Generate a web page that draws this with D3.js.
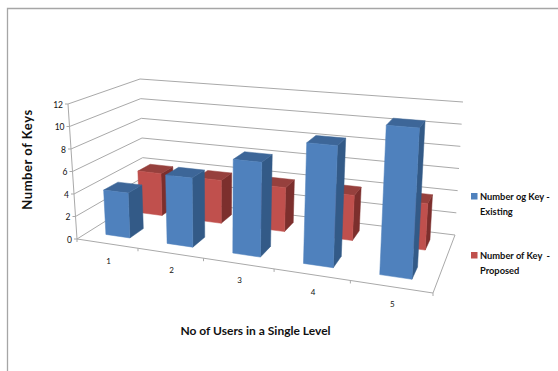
<!DOCTYPE html>
<html>
<head>
<meta charset="utf-8">
<script src="https://cdnjs.cloudflare.com/ajax/libs/d3/7.8.5/d3.min.js"></script>
<style>
html,body{margin:0;padding:0;background:#fff}
svg{display:block}
text{font-family:Lato,"Open Sans",sans-serif;fill:#111}
</style>
</head>
<body>
<svg id="chart" width="558" height="371"></svg>
<script>
// Chart data
const categories = ["1", "2", "3", "4", "5"];
const seriesNames = ["Number og Key - Existing", "Number of Key  - Proposed"];
const existingKeys = [4, 6, 8, 10, 12];
const proposedKeys = [4, 4, 4, 4, 4];
const valueTicks = [0, 2, 4, 6, 8, 10, 12];

// Screen corners of the 3D box, ordered front-left, front-right, back-right, back-left
const floorCorners = [[77, 239], [433, 293], [455, 235], [144, 197]];
const ceilingCorners = [[68, 104], [441, 136], [463, 102], [140, 79]];

// Perspective mapping of the unit square onto a quadrilateral
function squareToQuad(q) {
  const [[x0, y0], [x1, y1], [x2, y2], [x3, y3]] = q;
  const dx1 = x1 - x2, dx2 = x3 - x2, sx = x0 - x1 + x2 - x3;
  const dy1 = y1 - y2, dy2 = y3 - y2, sy = y0 - y1 + y2 - y3;
  const det = dx1 * dy2 - dx2 * dy1;
  const g = (sx * dy2 - dx2 * sy) / det;
  const h = (dx1 * sy - sx * dy1) / det;
  const a = x1 - x0 + g * x1, b = x3 - x0 + h * x3;
  const d = y1 - y0 + g * y1, e = y3 - y0 + h * y3;
  return (u, v) => {
    const w = g * u + h * v + 1;
    return [(a * u + b * v + x0) / w, (d * u + e * v + y0) / w];
  };
}
const floorMap = squareToQuad(floorCorners);
const ceilingMap = squareToQuad(ceilingCorners);

const xScale = d3.scaleBand().domain(categories).range([0, 1]).paddingInner(0.6).paddingOuter(0.3);
const xPoint = d3.scalePoint().domain(categories).range([0.1, 0.9]);
const depthScale = d3.scaleBand().domain(seriesNames).range([0, 1]).paddingInner(0.6).paddingOuter(0.3);
const yScale = d3.scaleLinear().domain([0, 12]).range([0, 1]);

function project(u, d, t) {
  const a = floorMap(u, d), b = ceilingMap(u, d);
  return [a[0] + (b[0] - a[0]) * t, a[1] + (b[1] - a[1]) * t];
}

const svg = d3.select("#chart");
const line = d3.line();
const gridColor = "#a9a9a9";

// Chart area border: only the top and left edges fall inside the frame
svg.append("path").attr("d", "M7.5,371V8.5H558").attr("fill", "none")
  .attr("stroke", "#a6a6a6").attr("stroke-width", 1.3);

// Gridlines along the side wall and the back wall
const grid = svg.append("g").attr("fill", "none").attr("stroke", gridColor).attr("stroke-width", 1);
valueTicks.forEach(v => {
  const t = yScale(v);
  grid.append("path").attr("d", line([project(0, 0, t), project(0, 1, t), project(1, 1, t)]));
});

// Floor outline and axis lines
grid.append("path").attr("d", line([project(0, 0, 0), project(1, 0, 0), project(1, 1, 0)]));
grid.append("path").attr("d", line([project(0, 0, 0), project(0, 0, 1)]));

// Tick marks on both axes
valueTicks.forEach(v => {
  const p = project(0, 0, yScale(v));
  grid.append("path").attr("d", line([[p[0] - 3, p[1]], p]));
});
d3.range(categories.length + 1).forEach(i => {
  const p = project(i / categories.length, 0, 0);
  grid.append("path").attr("d", line([p, [p[0], p[1] + 3]]));
});

// One box per value: front, top and right faces
function drawBars(values, name, colors) {
  const g = svg.append("g");
  categories.forEach((c, i) => {
    const u0 = xScale(c), u1 = u0 + xScale.bandwidth();
    const d0 = depthScale(name), d1 = d0 + depthScale.bandwidth();
    const t = yScale(values[i]);
    const faces = [
      [colors.side, [project(u1, d0, 0), project(u1, d1, 0), project(u1, d1, t), project(u1, d0, t)]],
      [colors.top, [project(u0, d0, t), project(u1, d0, t), project(u1, d1, t), project(u0, d1, t)]],
      [colors.front, [project(u0, d0, 0), project(u1, d0, 0), project(u1, d0, t), project(u0, d0, t)]]
    ];
    faces.forEach(([fill, pts]) => {
      g.append("path").attr("d", line(pts) + "Z").attr("fill", fill)
        .attr("stroke", fill).attr("stroke-width", 0.5);
    });
  });
}
const blue = { front: "#4f81bd", top: "#3d6698", side: "#335a87" };
const red = { front: "#c0504d", top: "#96403d", side: "#7c2f2d" };
drawBars(proposedKeys, seriesNames[1], red);
drawBars(existingKeys, seriesNames[0], blue);

// Value axis labels
valueTicks.forEach(v => {
  const p = project(0, 0, yScale(v));
  svg.append("text").attr("x", p[0] - 5).attr("y", p[1] + 3.5)
    .attr("text-anchor", "end").attr("font-size", 8.5).text(v);
});

// Category labels
categories.forEach(c => {
  const p = project(xPoint(c), 0, 0);
  svg.append("text").attr("x", p[0] + 1.5).attr("y", p[1] + 20)
    .attr("text-anchor", "middle").attr("font-size", 8).text(c);
});

// Axis titles
svg.append("text").attr("transform", "translate(32,159.5) rotate(-90)")
  .attr("text-anchor", "middle").attr("font-size", 13).attr("font-weight", 700)
  .attr("letter-spacing", 0.55).text("Number of Keys");
svg.append("text").attr("x", 255.5).attr("y", 335)
  .attr("text-anchor", "middle").attr("font-size", 12).attr("font-weight", 700)
  .text("No of Users in a Single Level");

// Legend
const legendRows = [
  { color: blue.front, y: 193, lines: ["Number og Key -", "Existing"] },
  { color: red.front, y: 252, lines: ["Number of Key  -", "Proposed"] }
];
legendRows.forEach(r => {
  svg.append("rect").attr("x", 471).attr("y", r.y).attr("width", 6.5).attr("height", 6.5).attr("fill", r.color);
  r.lines.forEach((s, i) => {
    svg.append("text").attr("x", 480).attr("y", r.y + 7 + i * 15)
      .attr("font-size", 9.3).attr("font-weight", 700).attr("xml:space", "preserve").text(s);
  });
});
</script>
</body>
</html>
